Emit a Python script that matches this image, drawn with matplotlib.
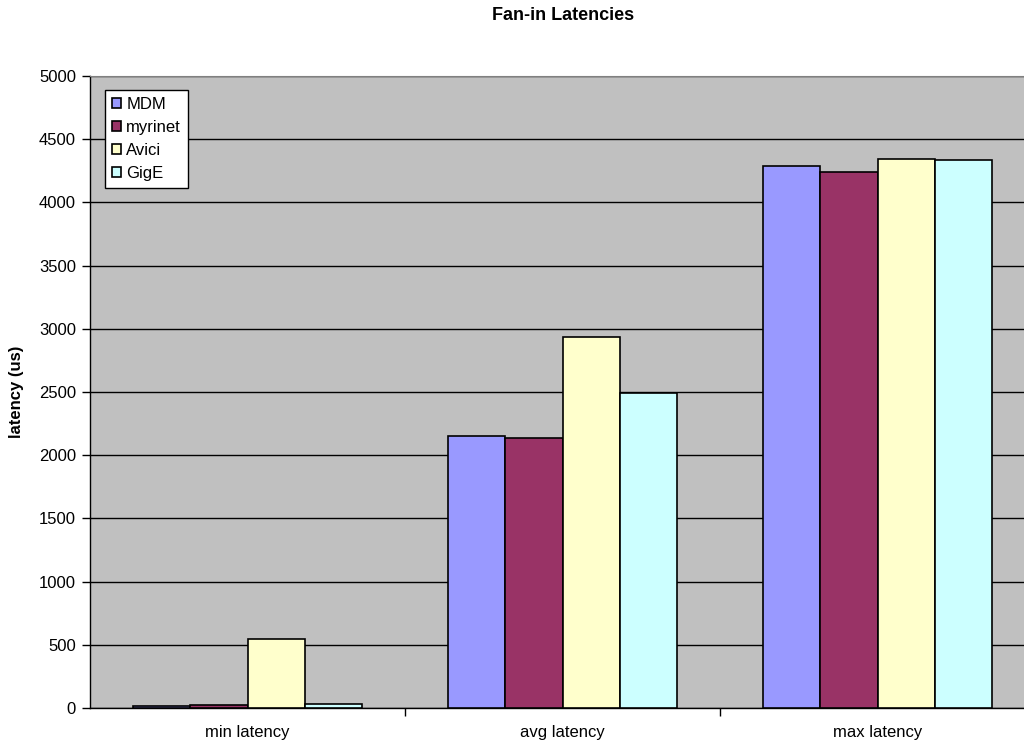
import numpy as np
import matplotlib
matplotlib.use("Agg")
import matplotlib.pyplot as plt

plt.rcParams['font.family'] = ['Liberation Sans', 'DejaVu Sans']

categories = ["min latency", "avg latency", "max latency"]
series_names = ["MDM", "myrinet", "Avici", "GigE"]
mdm = [18, 2154, 4285]
myrinet = [26, 2133, 4237]
avici = [543, 2938, 4342]
gige = [32, 2490, 4336]
colors = ["#9999FF", "#993366", "#FFFFCC", "#CCFFFF"]
yticks = list(range(0, 5001, 500))

values = [mdm, myrinet, avici, gige]

fig = plt.figure(figsize=(10.24, 7.44), dpi=100)
ax = fig.add_axes([90 / 1024, 1 - 708 / 744, 945 / 1024, 632 / 744])
ax.set_facecolor("#C0C0C0")

x = np.arange(len(categories))
w = 0.1825
for i, (name, vals) in enumerate(zip(series_names, values)):
    ax.bar(x + (i - 1.5) * w, vals, width=w, color=colors[i],
           edgecolor="black", linewidth=1.2, label=name, zorder=3)

ax.set_xlim(-0.5, 2.5)
ax.set_ylim(0, 5000)
ax.set_yticks(yticks)
ax.yaxis.grid(True, color="black", linewidth=1, zorder=1)
ax.set_axisbelow(True)

ax.set_xticks(x)
ax.set_xticklabels(categories, fontsize=12)
ax.tick_params(axis="x", length=0, pad=12)
ax.set_xticks([0.5, 1.5], minor=True)
ax.tick_params(axis="x", which="minor", length=6, width=1, direction="out")
ax.tick_params(axis="y", labelsize=12, length=6, width=1, direction="out", pad=4)

ax.spines["top"].set_color("#808080")
ax.spines["right"].set_visible(False)
ax.spines["left"].set_linewidth(1)
ax.spines["bottom"].set_linewidth(1)

ax.set_ylabel("latency (us)", fontsize=12, fontweight="bold")
ax.yaxis.set_label_coords(-66 / 945, 0.5)
fig.text(563 / 1024, 1 - 16 / 744, "Fan-in Latencies", fontsize=13,
         fontweight="bold", ha="center", va="center")

leg = ax.legend(loc="upper left", bbox_to_anchor=(15 / 945, 1 - 14 / 632),
                fontsize=12, frameon=True, fancybox=False, framealpha=1,
                edgecolor="black", handlelength=0.55, handleheight=0.55,
                handletextpad=0.3, labelspacing=0.48, borderpad=0.42,
                borderaxespad=0)
leg.get_frame().set_linewidth(1)

fig.savefig("out.png", dpi=100)
